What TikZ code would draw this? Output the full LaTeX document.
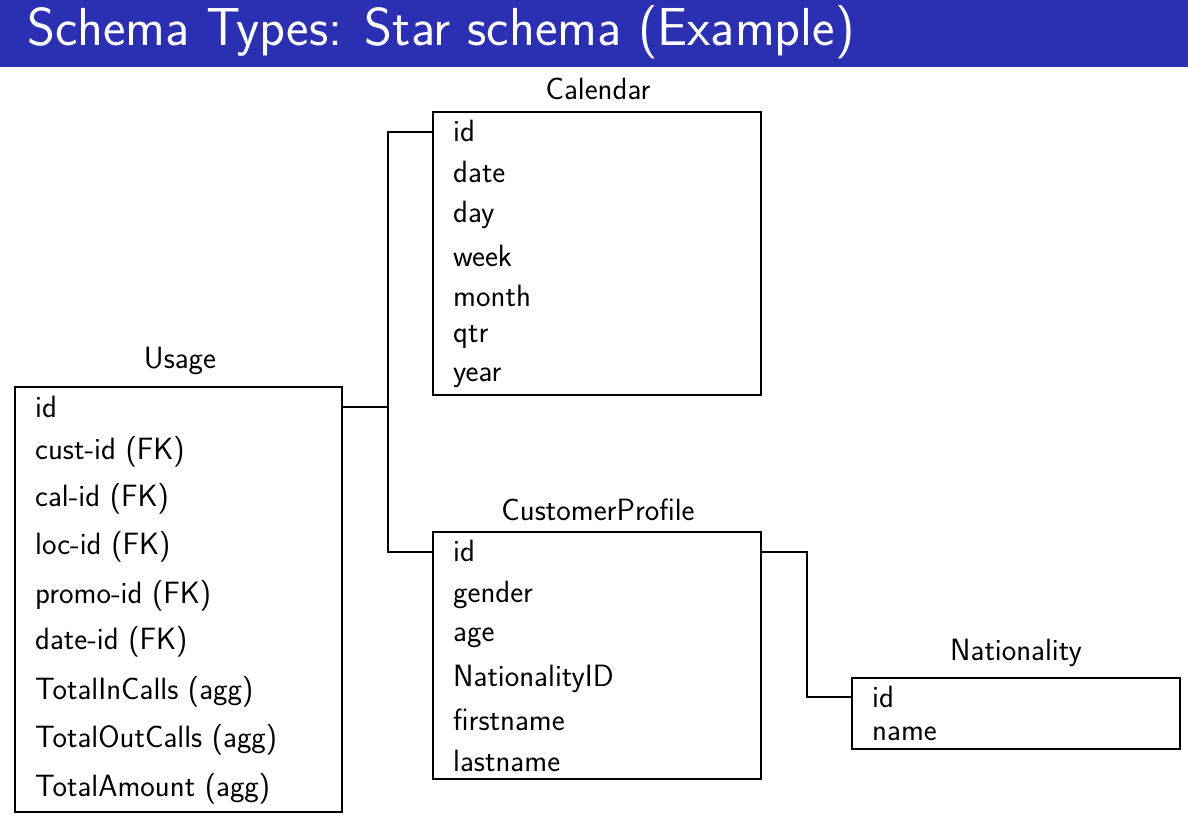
\documentclass[tikz,border=0pt]{standalone}
\usepackage{fontspec}
\definecolor{barblue}{RGB}{43,47,178}
\begin{document}
\begin{tikzpicture}[x=1pt,y=-1pt,
  tbl/.style={draw=black,line width=1.6pt,inner sep=0pt},
  row/.style={anchor=mid west,inner sep=0pt,font=\sffamily\fontsize{30.8}{36}\selectfont},
  ttl/.style={anchor=mid,inner sep=0pt,font=\sffamily\fontsize{30.8}{36}\selectfont},
  link/.style={draw=black,line width=1.6pt}]
\useasboundingbox (0,0) rectangle (1188,829);
\fill[white] (0,0) rectangle (1188,829);
\fill[barblue] (0,0) rectangle (1188,67);
\node[anchor=base west,inner sep=0pt,text=white,font=\sffamily\fontsize{53.5}{62}\selectfont] (title) at (27,46) {Schema Types: Star schema (Example)};
% Calendar
\node[tbl] (cal) at (597,253.5) [minimum width=328pt,minimum height=283pt] {};
\node[ttl] (calt) at (598,97) {Calendar};
\node[row] (c1) at (453,139) {id};
\node[row] (c2) at (453,180) {date};
\node[row] (c3) at (453,220) {day};
\node[row] (c4) at (453,264) {week};
\node[row] (c5) at (453,304) {month};
\node[row] (c6) at (453,340) {qtr};
\node[row] (c7) at (453,379) {year};
% Usage
\node[tbl] (use) at (178.5,599.5) [minimum width=327pt,minimum height=425pt] {};
\node[ttl] (uset) at (180,366) {Usage};
\node[row] (u1) at (35,415) {id};
\node[row] (u2) at (35,457) {cust-id (FK)};
\node[row] (u3) at (35,504) {cal-id (FK)};
\node[row] (u4) at (35,552) {loc-id (FK)};
\node[row] (u5) at (35,601) {promo-id (FK)};
\node[row] (u6) at (35,647) {date-id (FK)};
\node[row] (u7) at (35,697) {TotalInCalls (agg)};
\node[row] (u8) at (35,745) {TotalOutCalls (agg)};
\node[row] (u9) at (35,794) {TotalAmount (agg)};
% CustomerProfile
\node[tbl] (cust) at (597,655.5) [minimum width=328pt,minimum height=247pt] {};
\node[ttl] (custt) at (598,518) {CustomerProfile};
\node[row] (p1) at (453,559) {id};
\node[row] (p2) at (453,600) {gender};
\node[row] (p3) at (453,639) {age};
\node[row] (p4) at (453,684) {NationalityID};
\node[row] (p5) at (453,728) {firstname};
\node[row] (p6) at (453,769) {lastname};
% Nationality
\node[tbl] (nat) at (1016,713.5) [minimum width=328pt,minimum height=71pt] {};
\node[ttl] (natt) at (1016,658) {Nationality};
\node[row] (n1) at (872,705) {id};
\node[row] (n2) at (872,738) {name};
% connectors
\coordinate (j1) at (388,407);
\coordinate (j2) at (807,552);
\draw[link] (use.east |- 0,407) -- (j1) |- (cal.west |- 0,132);
\draw[link] (j1) |- (cust.west |- 0,552);
\draw[link] (cust.east |- 0,552) -- (j2) |- (nat.west |- 0,697);
\end{tikzpicture}
\end{document}
